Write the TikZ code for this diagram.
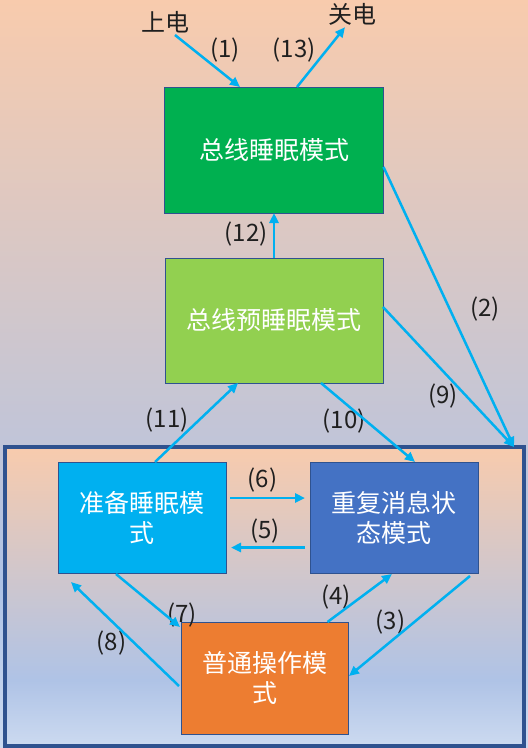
\documentclass[tikz,border=0pt]{standalone}
\usepackage{fontspec}
\setmainfont{Noto Sans CJK SC}
\usetikzlibrary{arrows.meta}
\definecolor{gP}{HTML}{F8CBAD}
\definecolor{gB}{HTML}{AFC3E6}
\definecolor{gL}{HTML}{CCDAF0}
\definecolor{arr}{HTML}{00B0F0}
\definecolor{bd}{HTML}{2F528F}
\definecolor{cA}{HTML}{00B050}
\definecolor{cB}{HTML}{92D050}
\definecolor{cC}{HTML}{00B0F0}
\definecolor{cD}{HTML}{4472C4}
\definecolor{cE}{HTML}{ED7D31}
\pgfdeclareverticalshading{pptgrad}{100bp}{color(0bp)=(gL); color(25bp)=(gL); color(36bp)=(gB); color(75bp)=(gP); color(100bp)=(gP)}
\begin{document}
\begin{tikzpicture}[x=1pt,y=-1pt,
  box/.style={draw=bd, line width=0.9pt, text=white, align=center, inner sep=0pt, outer sep=0pt, font=\fontsize{25}{30}\selectfont},
  lbl/.style={text=black!88, font=\fontsize{24}{28}\selectfont, inner sep=0pt},
  conn/.style={draw=arr, line width=2.5pt, -{Triangle[length=10pt,width=9pt]}}]
\useasboundingbox (0,0) rectangle (528,748);
\shade[shading=pptgrad] (0,0) rectangle (528,748);
\node[draw=bd, line width=3.5pt, shade, shading=pptgrad, minimum width=519pt, minimum height=299pt, inner sep=0pt, outer sep=0pt] (fr) at (264.5,596.5) {};
\node[lbl] (on) at (165,22) {上电};
\node[lbl] (off) at (352,14) {关电};
\node[box, fill=cA, minimum width=219pt, minimum height=126pt] (b1) at (274,150) {总线睡眠模式};
\node[box, fill=cB, minimum width=218pt, minimum height=125pt] (b2) at (274,320.5) {总线预睡眠模式};
\node[box, fill=cC, minimum width=168pt, minimum height=111pt] (b3) at (142,517.5) {准备睡眠模\\式};
\node[box, fill=cD, minimum width=168pt, minimum height=111pt] (b4) at (394,517.5) {重复消息状\\态模式};
\node[box, fill=cE, minimum width=167pt, minimum height=112pt] (b5) at (264.5,678) {普通操作模\\式};
\node[lbl] (l1) at (225,50) {(1)};
\node[lbl] (l13) at (294,50) {(13)};
\node[lbl] (l12) at (246,234) {(12)};
\node[lbl] (l2) at (485,309) {(2)};
\node[lbl] (l9) at (443,396) {(9)};
\node[lbl] (l11) at (167,420) {(11)};
\node[lbl] (l10) at (344,421) {(10)};
\node[lbl] (l6) at (262.5,480) {(6)};
\node[lbl] (l5) at (265,531) {(5)};
\node[lbl] (l7) at (182,615) {(7)};
\node[lbl] (l8) at (111.5,643) {(8)};
\node[lbl] (l4) at (336,597) {(4)};
\node[lbl] (l3) at (390.5,622) {(3)};
\draw[conn] ([xshift=10pt,yshift=-2pt]on.south) -- ([xshift=-34pt]b1.north);
\draw[conn] ([xshift=23pt]b1.north) -- ([xshift=-7pt,yshift=-2pt]off.south);
\draw[conn] (b2.north) -- (b1.south);
\draw[conn] ([yshift=-17pt]b1.east) -- ([xshift=-10pt]fr.north east);
\draw[conn] ([yshift=13.5pt]b2.east) -- ([xshift=-10pt]fr.north east);
\draw[conn] ([xshift=13pt]b3.north) -- ([xshift=-36pt]b2.south);
\draw[conn] ([xshift=47pt]b2.south) -- ([xshift=21pt]b4.north);
\draw[conn] ([xshift=4pt,yshift=19.5pt]b3.east) -- ([xshift=-5pt,yshift=19.5pt]b4.west);
\draw[conn] ([xshift=-5pt,yshift=-30pt]b4.west) -- ([xshift=5pt,yshift=-30pt]b3.east);
\draw[conn] ([xshift=-26pt,yshift=-1pt]b3.south) -- ([xshift=-1pt,yshift=-5pt]b5.north west);
\draw[conn] ([xshift=-2pt,yshift=-8pt]b5.west) -- ([xshift=13pt,yshift=-9pt]b3.south west);
\draw[conn] ([xshift=63pt]b5.north) -- ([xshift=-2pt,yshift=-1pt]b4.south);
\draw[conn] ([xshift=-8pt,yshift=-3pt]b4.south east) -- ([xshift=1pt,yshift=2pt]b5.east);
\end{tikzpicture}
\end{document}
